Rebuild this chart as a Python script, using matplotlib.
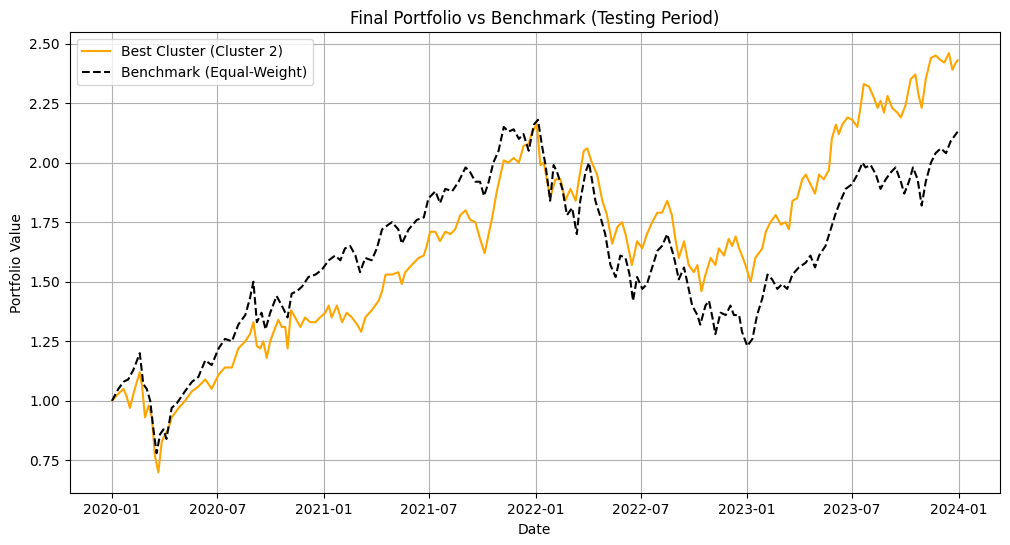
import matplotlib
matplotlib.use("Agg")
import matplotlib.pyplot as plt
import pandas as pd

start = pd.Timestamp("2020-01-01")

# days since 2020-01-01 and portfolio value
cluster_days = [0, 11, 20, 25, 31, 37, 43, 48, 52, 57, 63, 69, 74, 80, 86, 92, 97, 103, 109, 115,
                126, 138, 149, 161, 172, 184, 195, 207, 218, 230, 238, 244, 250, 256, 261, 267, 273,
                279, 287, 293, 299, 303, 309, 316, 325, 333, 342, 351, 359, 368, 374, 379, 388, 397,
                405, 414, 423, 430, 437, 448, 460, 466, 472, 483, 494, 500, 506, 517, 529, 538, 543,
                549, 558, 566, 575, 584, 592, 601, 610, 618, 627, 635, 643, 650, 656, 664, 676, 684,
                693, 702, 710, 719, 725, 733, 739, 745, 751, 756, 765, 774, 782, 791, 800, 805, 814,
                820, 828, 837, 846, 854, 863, 872, 880, 886, 892, 897, 906, 915, 923, 932, 941, 949,
                958, 966, 972, 978, 987, 995, 1004, 1010, 1017, 1024, 1033, 1041, 1047, 1056, 1064,
                1070, 1076, 1082, 1087, 1093, 1102, 1110, 1122, 1128, 1136, 1145, 1154, 1162, 1168,
                1174, 1182, 1191, 1197, 1205, 1213, 1220, 1228, 1237, 1242, 1249, 1254, 1260, 1269,
                1277, 1286, 1292, 1297, 1306, 1315, 1321, 1326, 1332, 1338, 1346, 1355, 1361, 1369,
                1378, 1386, 1392, 1397, 1404, 1413, 1421, 1430, 1436, 1444, 1450, 1456, 1459]
cluster_vals = [1.00, 1.03, 1.05, 1.02, 0.97, 1.03, 1.08, 1.12, 1.06, 0.93, 0.98, 0.93, 0.77, 0.70,
                0.83, 0.86, 0.88, 0.93, 0.95, 0.97, 1.00, 1.04, 1.06, 1.09, 1.05, 1.11, 1.14, 1.14,
                1.22, 1.25, 1.28, 1.33, 1.23, 1.22, 1.25, 1.18, 1.25, 1.29, 1.34, 1.31, 1.31, 1.22,
                1.38, 1.35, 1.31, 1.35, 1.33, 1.33, 1.35, 1.37, 1.40, 1.35, 1.40, 1.33, 1.37, 1.35,
                1.32, 1.29, 1.35, 1.38, 1.42, 1.46, 1.53, 1.53, 1.54, 1.49, 1.54, 1.57, 1.60, 1.61,
                1.65, 1.71, 1.71, 1.67, 1.71, 1.70, 1.72, 1.78, 1.80, 1.76, 1.75, 1.68, 1.62, 1.70,
                1.77, 1.88, 2.01, 2.00, 2.02, 2.00, 2.07, 2.08, 2.13, 2.16, 1.99, 2.00, 1.92, 1.85,
                1.93, 1.93, 1.84, 1.89, 1.84, 1.92, 2.05, 2.06, 2.00, 1.95, 1.84, 1.78, 1.66, 1.73,
                1.75, 1.70, 1.63, 1.57, 1.67, 1.64, 1.70, 1.75, 1.79, 1.79, 1.84, 1.78, 1.68, 1.60,
                1.67, 1.57, 1.54, 1.57, 1.46, 1.53, 1.60, 1.57, 1.64, 1.61, 1.68, 1.65, 1.69, 1.64,
                1.61, 1.57, 1.50, 1.60, 1.64, 1.71, 1.75, 1.78, 1.74, 1.75, 1.72, 1.84, 1.85, 1.93,
                1.95, 1.91, 1.87, 1.95, 1.93, 1.97, 2.10, 2.16, 2.12, 2.16, 2.19, 2.18, 2.15, 2.24,
                2.33, 2.32, 2.27, 2.23, 2.26, 2.21, 2.28, 2.23, 2.21, 2.19, 2.24, 2.35, 2.37, 2.28,
                2.23, 2.35, 2.44, 2.45, 2.43, 2.42, 2.46, 2.39, 2.42, 2.43]

bench_days = [0, 11, 20, 28, 37, 48, 54, 60, 66, 71, 77, 83, 89, 94, 103, 112, 126, 138, 149, 161,
              172, 184, 195, 207, 218, 230, 238, 244, 250, 258, 265, 273, 284, 293, 303, 310, 319,
              328, 339, 351, 362, 374, 385, 394, 402, 411, 420, 428, 437, 448, 457, 466, 477, 483,
              494, 500, 512, 526, 538, 546, 558, 566, 575, 587, 598, 610, 618, 627, 635, 642, 650,
              658, 667, 676, 684, 693, 702, 710, 719, 728, 735, 742, 748, 756, 762, 768, 777, 785,
              794, 802, 808, 817, 823, 828, 834, 843, 851, 860, 869, 877, 886, 893, 899, 906, 915,
              923, 932, 941, 949, 958, 964, 969, 978, 987, 995, 1001, 1010, 1015, 1024, 1030, 1036,
              1041, 1050, 1059, 1067, 1073, 1082, 1087, 1096, 1105, 1113, 1122, 1131, 1139, 1148,
              1156, 1165, 1174, 1185, 1197, 1205, 1213, 1220, 1231, 1240, 1249, 1257, 1266, 1277,
              1286, 1295, 1300, 1309, 1318, 1326, 1335, 1344, 1352, 1361, 1367, 1375, 1382, 1390,
              1397, 1404, 1413, 1421, 1430, 1439, 1447, 1456, 1459]
bench_vals = [1.00, 1.05, 1.08, 1.09, 1.13, 1.20, 1.07, 1.05, 1.00, 0.89, 0.78, 0.86, 0.88, 0.84,
              0.97, 0.99, 1.04, 1.08, 1.10, 1.17, 1.15, 1.22, 1.26, 1.25, 1.32, 1.36, 1.43, 1.50,
              1.33, 1.37, 1.30, 1.37, 1.44, 1.40, 1.35, 1.45, 1.46, 1.48, 1.52, 1.53, 1.55, 1.59,
              1.61, 1.59, 1.64, 1.65, 1.61, 1.54, 1.60, 1.59, 1.64, 1.72, 1.74, 1.75, 1.72, 1.66,
              1.72, 1.76, 1.77, 1.85, 1.88, 1.83, 1.89, 1.88, 1.92, 1.98, 1.96, 1.92, 1.92, 1.86,
              1.92, 2.00, 2.05, 2.15, 2.13, 2.14, 2.10, 2.12, 2.05, 2.16, 2.18, 2.07, 1.99, 1.84,
              1.99, 1.96, 1.89, 1.78, 1.81, 1.70, 1.84, 1.96, 2.00, 1.93, 1.84, 1.77, 1.70, 1.57,
              1.52, 1.61, 1.60, 1.53, 1.42, 1.52, 1.47, 1.49, 1.56, 1.63, 1.65, 1.70, 1.65, 1.61,
              1.51, 1.56, 1.47, 1.40, 1.36, 1.32, 1.40, 1.42, 1.35, 1.28, 1.37, 1.36, 1.40, 1.36,
              1.36, 1.29, 1.23, 1.26, 1.36, 1.43, 1.53, 1.51, 1.47, 1.49, 1.47, 1.53, 1.56, 1.58,
              1.61, 1.56, 1.61, 1.65, 1.72, 1.79, 1.84, 1.89, 1.91, 1.95, 2.00, 1.98, 1.99, 1.95,
              1.89, 1.93, 1.96, 1.98, 1.92, 1.87, 1.92, 1.98, 1.93, 1.82, 1.92, 2.00, 2.04, 2.06,
              2.04, 2.09, 2.12, 2.13]

cluster_dates = start + pd.to_timedelta(cluster_days, unit="D")
bench_dates = start + pd.to_timedelta(bench_days, unit="D")

plt.figure(figsize=(10.1, 5.45), dpi=100)
plt.plot(cluster_dates, cluster_vals, color="orange", label="Best Cluster (Cluster 2)")
plt.plot(bench_dates, bench_vals, color="black", linestyle="--", label="Benchmark (Equal-Weight)")

plt.title("Final Portfolio vs Benchmark (Testing Period)")
plt.xlabel("Date")
plt.ylabel("Portfolio Value")
plt.legend(loc="upper left")
plt.grid(True)
plt.subplots_adjust(left=0.069, right=0.990, top=0.941, bottom=0.095)
plt.savefig("out.png")
